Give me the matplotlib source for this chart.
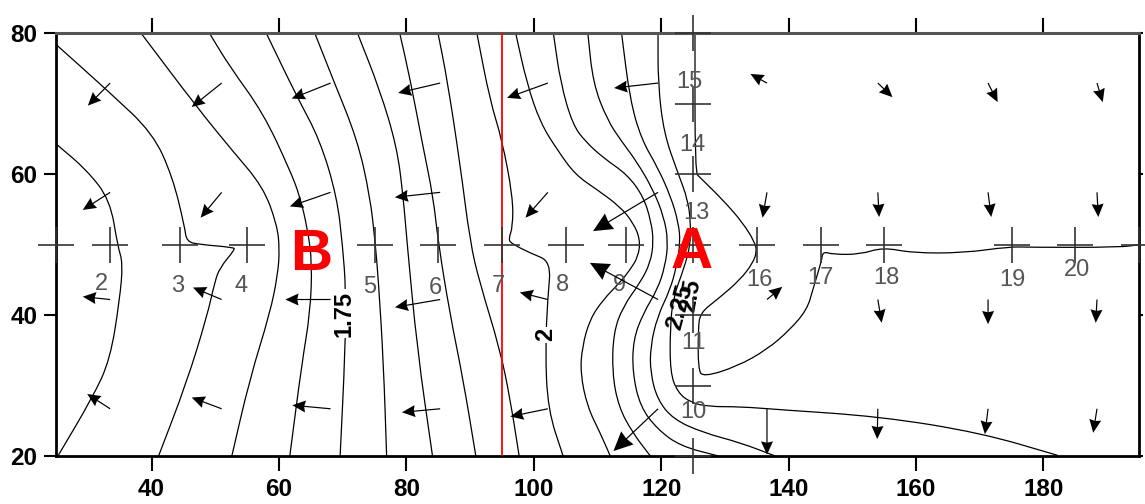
import matplotlib
matplotlib.use("Agg")
import matplotlib.pyplot as plt
import numpy as np
from matplotlib.path import Path
from matplotlib.patches import PathPatch

plt.rcParams['font.family'] = ['Liberation Sans', 'DejaVu Sans']

# contour lines, (x, y) pairs in data units
line_00 = [(25.1, 64.2), (29.8, 60.6), (33.5, 56.3), (34.7, 49.7), (35.5, 47.4),
           (35.0, 42.2), (33.5, 33.7), (30.8, 28.4), (25.3, 20.0)]
line_01 = [(25.1, 78.3), (33.5, 71.5), (40.2, 65.8), (43.3, 59.6), (45.2, 52.5),
           (45.5, 50.4), (47.6, 50.0), (52.8, 49.6), (53.1, 49.3), (50.7, 46.7),
           (49.9, 44.6), (48.7, 39.8), (45.5, 30.4), (41.1, 20.0)]
line_02 = [(38.5, 79.8), (47.1, 69.5), (52.6, 63.4), (57.5, 58.2), (59.7, 52.8),
           (60.1, 49.3), (59.8, 45.7), (58.6, 40.3), (55.4, 30.9), (52.6, 20.0)]
line_03 = [(49.2, 79.8), (52.3, 75.2), (57.5, 68.7), (61.7, 60.6), (63.3, 56.8),
           (64.5, 52.1), (65.2, 47.4), (64.9, 40.3), (63.6, 33.2), (61.7, 20.0)]
line_04 = [(58.1, 79.8), (62.8, 71.0), (66.4, 64.9), (69.1, 56.8), (70.0, 49.7),
           (70.5, 43.6), (70.4, 35.1), (69.6, 20.0)]
line_05 = [(65.7, 79.8), (68.5, 73.4), (72.3, 64.9), (74.3, 56.8), (75.1, 50.3),
           (75.6, 45.0), (76.4, 33.3), (76.9, 20.0)]
line_06 = [(72.4, 79.8), (75.8, 72.0), (78.5, 63.9), (79.5, 56.8), (80.1, 50.3),
           (81.7, 35.1), (84.1, 20.0)]
line_07 = [(79.0, 79.8), (80.6, 73.4), (82.6, 63.9), (84.2, 56.8), (85.0, 50.3),
           (86.8, 40.3), (88.9, 30.9), (90.9, 20.0)]
line_08 = [(85.0, 79.8), (86.4, 73.4), (88.4, 61.6), (90.0, 50.3), (91.5, 44.6),
           (94.7, 35.1), (96.3, 28.0), (97.7, 20.0)]
line_09 = [(91.1, 79.8), (93.1, 70.5), (95.0, 64.9), (96.7, 56.8), (96.7, 52.5),
           (96.0, 50.7), (96.6, 50.1), (99.4, 48.8), (102.7, 47.6), (102.2, 42.6),
           (101.8, 35.1), (102.2, 26.6), (104.6, 20.0)]
line_10 = [(97.2, 79.8), (98.9, 72.9), (101.0, 67.3), (103.7, 63.4), (106.5, 59.9),
           (109.9, 57.8), (113.5, 55.4), (115.6, 53.1), (116.7, 50.7), (116.4, 48.3),
           (115.1, 46.4), (113.5, 44.6), (110.9, 42.2), (108.8, 39.4), (107.6, 35.5),
           (107.3, 31.8), (108.4, 27.0), (110.4, 23.3), (112.0, 20.0)]
line_11 = [(103.1, 79.8), (104.2, 72.9), (106.1, 67.0), (108.1, 64.6), (110.9, 62.3),
           (114.7, 59.9), (117.2, 56.8), (118.4, 53.3), (118.8, 50.4), (118.3, 47.4),
           (116.7, 44.6), (114.0, 41.2), (112.5, 37.5), (112.3, 31.8), (113.3, 27.0),
           (115.5, 23.3), (118.3, 20.0)]
line_12 = [(108.5, 79.8), (109.3, 72.9), (111.5, 67.7), (113.8, 64.6), (116.2, 61.7),
           (118.7, 57.8), (120.4, 54.0), (121.1, 50.4), (120.6, 46.9), (119.4, 43.6),
           (117.2, 40.3), (115.6, 36.5), (115.5, 31.8), (116.7, 27.0), (119.4, 23.8),
           (123.0, 21.4), (129.0, 20.0)]
line_13 = [(113.8, 79.8), (115.1, 70.5), (116.9, 64.9), (119.4, 61.0), (121.5, 56.8),
           (122.7, 53.1), (123.0, 50.3), (122.4, 46.9), (121.4, 43.6), (119.4, 39.8),
           (118.3, 35.5), (118.3, 31.8), (119.4, 28.0), (121.9, 25.2), (126.6, 23.3),
           (132.4, 21.9), (137.9, 20.0)]
line_14 = [(119.5, 79.8), (119.5, 72.9), (120.4, 65.8), (122.6, 60.2), (124.2, 56.3),
           (124.6, 53.1), (124.6, 50.0), (123.5, 46.4), (121.9, 42.6), (121.4, 38.3),
           (121.4, 31.8), (122.6, 29.0), (124.6, 27.6), (127.4, 27.0), (132.4, 27.0),
           (138.2, 26.6), (154.4, 25.6), (170.1, 23.3), (182.2, 20.1)]
line_15 = [(125.3, 79.8), (125.3, 60.2), (126.1, 59.5), (129.7, 56.3), (132.8, 53.1),
           (134.7, 50.3), (135.0, 49.0), (134.4, 47.4), (132.4, 45.0), (128.8, 42.2),
           (126.1, 40.3), (125.8, 37.9), (125.8, 32.3), (126.6, 31.2), (131.9, 32.7),
           (136.6, 35.1), (140.2, 37.9), (142.9, 40.8), (143.8, 43.6), (144.6, 46.0),
           (145.2, 47.9), (145.4, 49.0), (147.0, 48.6), (151.2, 48.6), (154.8, 49.6),
           (159.5, 48.8), (167.4, 48.8), (174.7, 49.7), (177.9, 49.6), (192.0, 49.6),
           (195.2, 50.0)]
contour_lines = [line_00, line_01, line_02, line_03, line_04, line_05, line_06, line_07,
                 line_08, line_09, line_10, line_11, line_12, line_13, line_14, line_15]

# contour labels
clabel_text = ['1.75', '2', '2.25', '2.5']
clabel_x = [70.2, 101.8, 122.9, 124.6]
clabel_y = [40.2, 37.2, 41.1, 42.8]
clabel_rot = [90, 90, 75, 80]

# wells (crosses)
well_x = [25, 33.5, 44.5, 55, 75, 85, 95, 105, 114.5, 125, 135, 145, 155, 175, 185, 195,
          125, 125, 125, 125, 125, 125]
well_y = [50] * 16 + [80, 70, 60, 40, 30, 20]

well_names = ['2', '3', '4', '5', '6', '7', '8', '9', '16', '17', '18', '19', '20',
              '15', '14', '13', '11', '10']
name_x = [32.2, 44.1, 54.0, 74.3, 84.6, 94.4, 104.5, 113.4, 135.4, 145.0, 155.3, 175.1,
          185.2, 124.4, 124.9, 125.5, 125.0, 125.0]
name_y = [44.4, 44.1, 44.1, 44.0, 43.9, 44.1, 44.3, 44.3, 45.0, 45.3, 45.3, 45.0, 46.4,
          73.1, 64.1, 54.5, 36.0, 26.2]

# flow arrows: tails on a grid, components per row
arrow_cols = [33.5, 51.0, 68.1, 85.3, 102.2, 119.5, 136.6, 154.0, 171.3, 188.4]
arrow_rows = [72.9, 57.4, 42.2, 26.7]
arrow_u = [[-3.5, -4.7, -6.1, -6.6, -6.4, -6.9, -2.6, 2.3, 1.5, 0.9],
           [-4.3, -3.3, -6.4, -7.1, -3.5, -10.2, -0.7, 0.2, 0.5, 0.2],
           [-4.3, -4.5, -7.1, -7.1, -4.4, -10.7, 2.4, 0.6, 0.0, -0.2],
           [-3.6, -4.7, -6.0, -6.0, -5.9, -7.0, 0.0, -0.1, -0.5, -0.6]]
arrow_v = [[-3.2, -3.4, -2.2, -1.4, -2.1, -0.7, 1.3, -2.0, -2.7, -2.7],
           [-2.5, -3.6, -2.0, -0.7, -3.6, -5.5, -3.6, -3.5, -3.5, -3.5],
           [0.4, 1.7, 0.0, -1.1, 1.0, 5.2, 1.8, -3.3, -3.5, -3.3],
           [2.1, 1.6, 0.5, -0.5, -1.1, -6.0, -6.5, -4.3, -3.6, -3.4]]

section_x = 95
points = {'A': (124.7, 48.8), 'B': (65.1, 48.5)}


def smooth_path(pts):
    # quadratic curve through midpoints, corners used as control points
    p = np.asarray(pts, dtype=float)
    mids = (p[:-1] + p[1:]) / 2
    verts = [p[0], mids[0]]
    codes = [Path.MOVETO, Path.LINETO]
    for i in range(1, len(p) - 1):
        verts += [p[i], mids[i]]
        codes += [Path.CURVE3, Path.CURVE3]
    verts.append(p[-1])
    codes.append(Path.LINETO)
    return Path(verts, codes)


fig = plt.figure(figsize=(11.45, 5.04), dpi=100)
ax = fig.add_axes([0.0489, 0.0952, 0.9459, 0.8393])
ax.set_xlim(25, 195)
ax.set_ylim(20, 80)

for line in contour_lines:
    ax.add_patch(PathPatch(smooth_path(line), fill=False, edgecolor='black', lw=0.9,
                           zorder=2))

for t, x, y, r in zip(clabel_text, clabel_x, clabel_y, clabel_rot):
    box = dict(facecolor='white', edgecolor='none', pad=1) if t in ('1.75', '2') else None
    ax.text(x, y, t, rotation=r, ha='center', va='center', fontsize=17,
            fontweight='bold', bbox=box, zorder=3)

ax.plot(well_x, well_y, linestyle='none', marker='+', markersize=26, mew=1.2,
        color='#333333', clip_on=False, zorder=4)

for n, x, y in zip(well_names, name_x, name_y):
    ax.text(x, y, n, ha='center', va='center', fontsize=17, color='#555555', zorder=4)

# arrows
X, Y = np.meshgrid(arrow_cols, arrow_rows)
U = np.array(arrow_u)
V = np.array(arrow_v)
big = np.hypot(U, V) > 9
ax.quiver(X[~big], Y[~big], U[~big], V[~big], angles='xy', scale_units='xy', scale=1,
          units='dots', width=1.2, headwidth=10, headlength=11, headaxislength=10,
          color='black', zorder=5)
ax.quiver(X[big], Y[big], U[big], V[big], angles='xy', scale_units='xy', scale=1,
          units='dots', width=1.2, headwidth=15, headlength=16, headaxislength=15,
          color='black', zorder=5)

ax.axvline(section_x, color='red', lw=1.3, zorder=3)

for name, (x, y) in points.items():
    ax.text(x, y, name, ha='center', va='center', fontsize=42, fontweight='bold',
            color='red', zorder=6)

ax.set_xticks(np.arange(40, 181, 20))
ax.set_yticks([20, 40, 60, 80])
ax.tick_params(axis='x', direction='out', length=11, width=1.5, top=True, pad=5,
               labelsize=17.5)
ax.tick_params(axis='y', direction='out', length=8.5, width=1.5, right=True, pad=5,
               labelsize=17.5)
for tick in ax.yaxis.get_major_ticks():
    tick.tick2line.set_markersize(3)
for lab in ax.get_xticklabels() + ax.get_yticklabels():
    lab.set_fontweight('bold')

for side in ['left', 'right', 'bottom']:
    ax.spines[side].set_linewidth(2)
ax.spines['top'].set_linewidth(2.2)
ax.spines['top'].set_color('#555555')

fig.savefig('out.png', dpi=100)
